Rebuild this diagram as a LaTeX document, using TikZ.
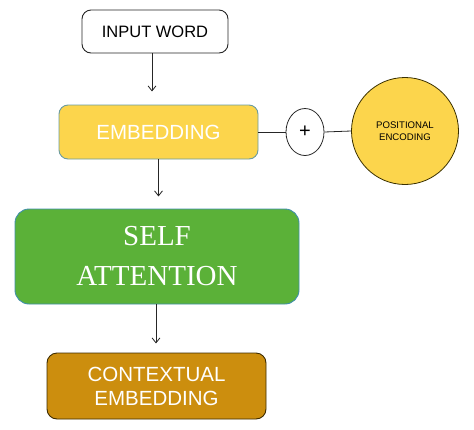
\documentclass[tikz,border=0pt]{standalone}
\usepackage{fontspec}
\setmainfont{Liberation Sans}
\newfontfamily\serifface{Liberation Serif}
\usetikzlibrary{arrows.meta,shapes.geometric}
\definecolor{embfill}{HTML}{FCD54C}
\definecolor{embline}{HTML}{6A9BA0}
\definecolor{safill}{HTML}{5BB138}
\definecolor{saline}{HTML}{3F8FAA}
\definecolor{ctxfill}{HTML}{CC8E0E}
\definecolor{ctxline}{HTML}{3D2B00}
\definecolor{posline}{HTML}{3A3000}
\begin{document}
\begin{tikzpicture}[x=1pt,y=-1pt,
  box/.style={draw,rounded corners=9pt,line width=0.9pt,inner sep=0pt,align=center},
  arr/.style={-{Straight Barb[length=5pt,width=8pt]},line width=0.8pt,draw=black!85},
  conn/.style={line width=0.8pt,draw=black!85}]
\useasboundingbox (0,0) rectangle (474,429);
\node[box,draw=black!85,fill=white,minimum width=146pt,minimum height=43pt,font=\fontsize{16.5}{19}\selectfont] (input) at (155,31.5) {INPUT WORD};
\node[box,draw=embline,fill=embfill,minimum width=199pt,minimum height=54pt,text=white,font=\fontsize{20.5}{24}\selectfont] (emb) at (158.5,132) {EMBEDDING};
\node[draw=black!85,line width=0.8pt,ellipse,fill=white,minimum width=38pt,minimum height=47pt,inner sep=0pt,font=\fontsize{20}{24}\selectfont] (plus) at (305,132) {+};
\node[draw=posline,line width=0.8pt,circle,fill=embfill,minimum size=107pt,inner sep=0pt,align=center,font=\fontsize{9.6}{12}\selectfont] (pos) at (405,131) {POSITIONAL\\ENCODING};
\node[box,draw=saline,fill=safill,rounded corners=14pt,minimum width=284pt,minimum height=95pt,text=white,font=\serifface\fontsize{29}{40}\selectfont] (sa) at (157,256.5) {SELF\\ATTENTION};
\node[box,draw=ctxline,fill=ctxfill,rounded corners=10pt,minimum width=219pt,minimum height=66pt,text=white,font=\fontsize{20.5}{24}\selectfont] (ctx) at (156.5,386) {CONTEXTUAL\\EMBEDDING};
\draw[arr] ([xshift=-3pt]input.south) -- ++(0,38);
\draw[arr] (emb.south) -- ++(0,37);
\draw[arr] ([xshift=-1pt]sa.south) -- ++(0,39);
\draw[conn] (emb.east) -- (plus.west);
\draw[conn] (plus.east) -- (pos.west);
\end{tikzpicture}
\end{document}
